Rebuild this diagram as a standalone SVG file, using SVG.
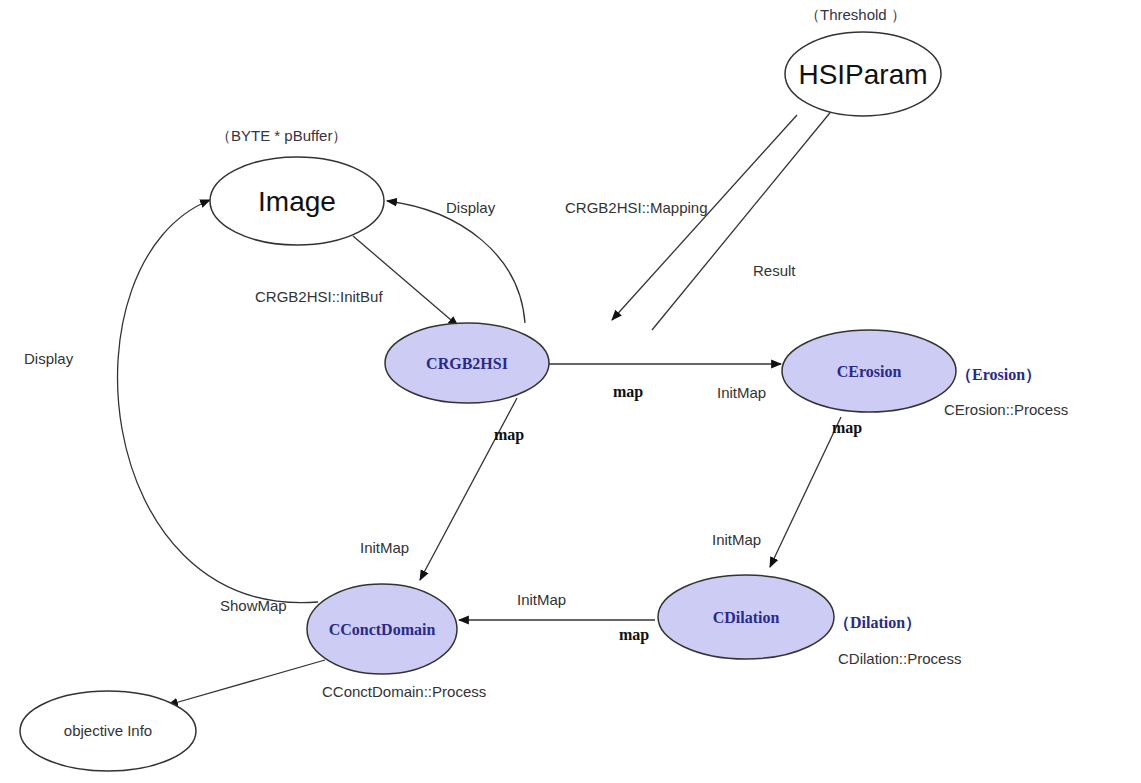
<svg xmlns="http://www.w3.org/2000/svg" width="1141" height="783" viewBox="0 0 1141 783">
<style>
.n{fill:#fff;stroke:#333;stroke-width:1.5}
.c{fill:#ccccf5;stroke:#333;stroke-width:1.5}
.t{font-family:"Liberation Sans",Arial,sans-serif;font-size:15px;fill:#333}
.big{font-family:"Liberation Sans",Arial,sans-serif;font-size:28px;fill:#111;text-anchor:middle}
.cls{font-family:"Liberation Serif",serif;font-weight:bold;font-size:16px;fill:#2a2a8a;text-anchor:middle}
.par{font-family:"Liberation Sans",Arial,sans-serif;font-size:15px;fill:#334}
.parb{font-family:"Liberation Serif",serif;font-weight:bold;font-size:16px;fill:#2a2a8a}
.m{font-family:"Liberation Serif",serif;font-weight:bold;font-size:16px;fill:#111}
.e{fill:none;stroke:#333;stroke-width:1.3;marker-end:url(#a)}
</style>
<defs><marker id="a" viewBox="0 0 10 10" refX="9" refY="5" markerWidth="11" markerHeight="11" markerUnits="userSpaceOnUse" orient="auto"><path d="M0,1 L10,5 L0,9 z" fill="#111"/></marker></defs>
<rect width="1141" height="783" fill="#fff"/>
<g id="connectors">
<path class="e" d="M353,236 L458,326"/>
<path class="e" d="M525,323 C520,255 460,210 387,201"/>
<path class="e" d="M797,115 L612,320"/>
<path class="e" d="M652,330 L838,103"/>
<path class="e" d="M549,364 L781,364"/>
<path class="e" d="M517,398 L420,580"/>
<path class="e" d="M841,417 L770,567"/>
<path class="e" d="M655,620 L459,620"/>
<path class="e" d="M318,602 C90,620 60,260 210,200"/>
<path class="e" d="M325,660 L168,705"/>
</g>
<g id="image"><ellipse class="n" cx="297" cy="201" rx="87" ry="44"/><text class="big" x="297" y="211">Image</text><text class="par" x="216" y="141">（BYTE * pBuffer）</text></g>
<g id="hsiparam"><ellipse class="n" cx="863" cy="74" rx="78" ry="42"/><text class="big" x="863" y="84">HSIParam</text><text class="par" x="805" y="20">（Threshold ）</text></g>
<g id="crgb2hsi"><ellipse class="c" cx="467" cy="363" rx="82" ry="40"/><text class="cls" x="467" y="369">CRGB2HSI</text></g>
<g id="cerosion"><ellipse class="c" cx="869" cy="371" rx="87" ry="41"/><text class="cls" x="869" y="377">CErosion</text><text class="parb" x="956" y="380">（Erosion）</text><text class="t" x="944" y="415">CErosion::Process</text></g>
<g id="cdilation"><ellipse class="c" cx="746" cy="617" rx="88" ry="42"/><text class="cls" x="746" y="623">CDilation</text><text class="parb" x="834" y="628">（Dilation）</text><text class="t" x="838" y="664">CDilation::Process</text></g>
<g id="cconctdomain"><ellipse class="c" cx="382" cy="629" rx="75" ry="45"/><text class="cls" x="382" y="635">CConctDomain</text><text class="t" x="322" y="697">CConctDomain::Process</text></g>
<g id="objinfo"><ellipse class="n" cx="108" cy="731" rx="88" ry="40"/><text class="t" x="108" y="736" text-anchor="middle">objective  Info</text></g>
<g id="labels">
<text class="t" x="446" y="213">Display</text>
<text class="t" x="565" y="213">CRGB2HSI::Mapping</text>
<text class="t" x="753" y="276">Result</text>
<text class="t" x="255" y="302">CRGB2HSI::InitBuf</text>
<text class="t" x="24" y="364">Display</text>
<text class="m" x="613" y="397">map</text>
<text class="t" x="717" y="398">InitMap</text>
<text class="m" x="832" y="433">map</text>
<text class="m" x="494" y="440">map</text>
<text class="t" x="360" y="553">InitMap</text>
<text class="t" x="712" y="545">InitMap</text>
<text class="t" x="220" y="611">ShowMap</text>
<text class="t" x="517" y="605">InitMap</text>
<text class="m" x="619" y="640">map</text>
</g>
</svg>
